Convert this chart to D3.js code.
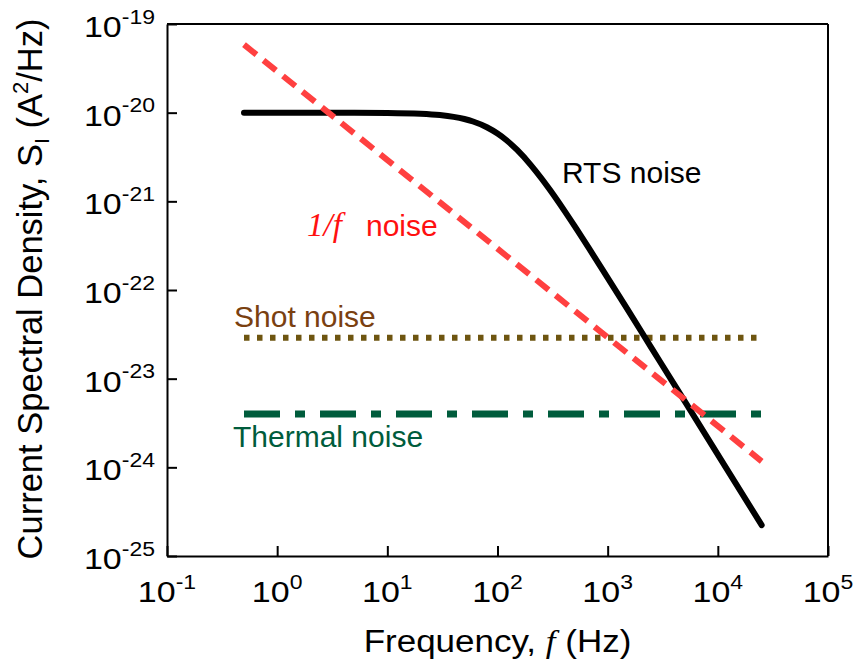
<!DOCTYPE html>
<html>
<head>
<meta charset="utf-8">
<script src="https://cdn.jsdelivr.net/npm/d3@7"></script>
<style>
  html, body { margin: 0; padding: 0; background: #fff; }
  svg { display: block; }
  text { font-family: "Liberation Sans", Arial, sans-serif; }
</style>
</head>
<body>
<svg id="chart" width="857" height="666"></svg>
<script>
// ---------------- data ----------------
const rtsFreq = [0.5, 1, 2, 5, 10, 20, 30, 40, 50, 60, 80, 100, 120, 150, 200, 250, 300, 400, 500, 700, 1000, 1500, 2000, 3000, 5000, 10000, 25000];
const rtsPSD  = [1.0e-20, 1.0e-20, 1.0e-20, 9.98e-21, 9.93e-21, 9.72e-21, 9.39e-21, 8.97e-21, 8.48e-21, 7.95e-21, 6.85e-21, 5.82e-21, 4.92e-21, 3.82e-21, 2.58e-21, 1.82e-21, 1.34e-21, 8.01e-22, 5.28e-22, 2.76e-22, 1.37e-22, 6.15e-23, 3.47e-23, 1.54e-23, 5.57e-24, 1.39e-24, 2.23e-25];

const flickerFreq = [0.5, 25000];
const flickerPSD  = [5.85e-20, 1.17e-24];

const shotFreq = [0.5, 25000];
const shotPSD  = [2.9e-23, 2.9e-23];

const thermalFreq = [0.5, 25000];
const thermalPSD  = [4.0e-24, 4.0e-24];

const xTickValues = [1e-1, 1e0, 1e1, 1e2, 1e3, 1e4, 1e5];
const xTickExps   = ["-1", "0", "1", "2", "3", "4", "5"];
const yTickValues = [1e-25, 1e-24, 1e-23, 1e-22, 1e-21, 1e-20, 1e-19];
const yTickExps   = ["-25", "-24", "-23", "-22", "-21", "-20", "-19"];

// ---------------- layout ----------------
const svg = d3.select("#chart");
const L = 167, R = 828, T = 24, B = 556;

const x = d3.scaleLog().domain([1e-1, 1e5]).range([L, R]);
const y = d3.scaleLog().domain([1e-25, 1e-19]).range([B, T]);

const line = d3.line()
  .x(d => x(d[0]))
  .y(d => y(d[1]))
  .curve(d3.curveMonotoneX);

const zip = (a, b) => a.map((v, i) => [v, b[i]]);

// ---------------- series ----------------
const gSeries = svg.append("g");

gSeries.append("path")
  .datum(zip(shotFreq, shotPSD))
  .attr("d", line)
  .attr("fill", "none")
  .attr("stroke", "#6e5510")
  .attr("stroke-width", 6)
  .attr("stroke-dasharray", "5.5,7.5");

gSeries.append("path")
  .datum(zip(thermalFreq, thermalPSD))
  .attr("d", line)
  .attr("fill", "none")
  .attr("stroke", "#005c3c")
  .attr("stroke-width", 7)
  .attr("stroke-dasharray", "36,15,10,15");

gSeries.append("path")
  .datum(zip(rtsFreq, rtsPSD))
  .attr("d", line)
  .attr("fill", "none")
  .attr("stroke", "#000")
  .attr("stroke-width", 6)
  .attr("stroke-linecap", "round")
  .attr("stroke-linejoin", "round");

gSeries.append("path")
  .datum(zip(flickerFreq, flickerPSD))
  .attr("d", line)
  .attr("fill", "none")
  .attr("stroke", "#ff4040")
  .attr("stroke-width", 6)
  .attr("stroke-dasharray", "16,9");

// ---------------- axes ----------------
const xAxis = d3.axisBottom(x).tickValues(xTickValues).tickSizeInner(-10).tickSizeOuter(0).tickFormat("");
const yAxis = d3.axisLeft(y).tickValues(yTickValues).tickSizeInner(-10).tickSizeOuter(0).tickFormat("");

const gx = svg.append("g").attr("transform", `translate(0,${B})`).call(xAxis);
const gy = svg.append("g").attr("transform", `translate(${L},0)`).call(yAxis);
[gx, gy].forEach(g => {
  g.selectAll("path.domain").attr("stroke", "#000").attr("stroke-width", 2);
  g.selectAll(".tick line").attr("stroke", "#000").attr("stroke-width", 2);
});

// top & right border
svg.append("line").attr("x1", L).attr("x2", R).attr("y1", T).attr("y2", T)
  .attr("stroke", "#000").attr("stroke-width", 2);
svg.append("line").attr("x1", R).attr("x2", R).attr("y1", T).attr("y2", B)
  .attr("stroke", "#000").attr("stroke-width", 2);

// tick labels (glyphs slightly compressed vertically, as in the reference)
const tickFont = 34, supFont = 23, vScale = 0.88;
xTickValues.forEach((v, i) => {
  const t = svg.append("text")
    .attr("transform", `translate(${x(v)},${B + 46}) scale(1,${vScale})`)
    .attr("text-anchor", "middle")
    .attr("font-size", tickFont)
    .attr("fill", "#000");
  t.append("tspan").text("10");
  t.append("tspan").attr("font-size", supFont).attr("dy", -15).text(xTickExps[i]);
});

yTickValues.forEach((v, i) => {
  const t = svg.append("text")
    .attr("transform", `translate(${L - 12},${y(v) + 13}) scale(1,${vScale})`)
    .attr("text-anchor", "end")
    .attr("font-size", tickFont)
    .attr("fill", "#000");
  t.append("tspan").text("10");
  t.append("tspan").attr("font-size", supFont).attr("dy", -15).text(yTickExps[i]);
});

// axis titles
const xt = svg.append("text")
  .attr("transform", `translate(${(L + R) / 2},652) scale(1,${vScale})`)
  .attr("text-anchor", "middle")
  .attr("font-size", 35)
  .attr("fill", "#000");
xt.append("tspan").text("Frequency, ");
xt.append("tspan").attr("font-family", "'Liberation Serif', 'Times New Roman', serif").attr("font-style", "italic").text("f");
xt.append("tspan").text(" (Hz)");

const yt = svg.append("text")
  .attr("transform", `translate(42,${(T + B) / 2 - 1}) rotate(-90)`)
  .attr("text-anchor", "middle")
  .attr("font-size", 34.5)
  .attr("fill", "#000");
yt.append("tspan").text("Current Spectral Density, S");
yt.append("tspan").attr("font-size", 21).attr("dy", 7).text("I");
yt.append("tspan").attr("dy", -7).text(" (A");
yt.append("tspan").attr("font-size", 22).attr("dy", -14).text("2");
yt.append("tspan").attr("dy", 14).text("/Hz)");

// annotations
svg.append("text").attr("x", 562).attr("y", 183).attr("font-size", 30).attr("fill", "#000").text("RTS noise");

const ft = svg.append("text").attr("x", 307).attr("y", 236).attr("font-size", 30).attr("fill", "#ff1010");
ft.append("tspan").attr("font-family", "'Liberation Serif', 'Times New Roman', serif").attr("font-style", "italic").attr("font-size", 33).text("1/f");
ft.append("tspan").attr("x", 366).text("noise");

svg.append("text").attr("x", 234).attr("y", 327).attr("font-size", 30).attr("fill", "#7a4010").text("Shot noise");
svg.append("text").attr("x", 233).attr("y", 447).attr("font-size", 30).attr("fill", "#005c3c").text("Thermal noise");
</script>
</body>
</html>
